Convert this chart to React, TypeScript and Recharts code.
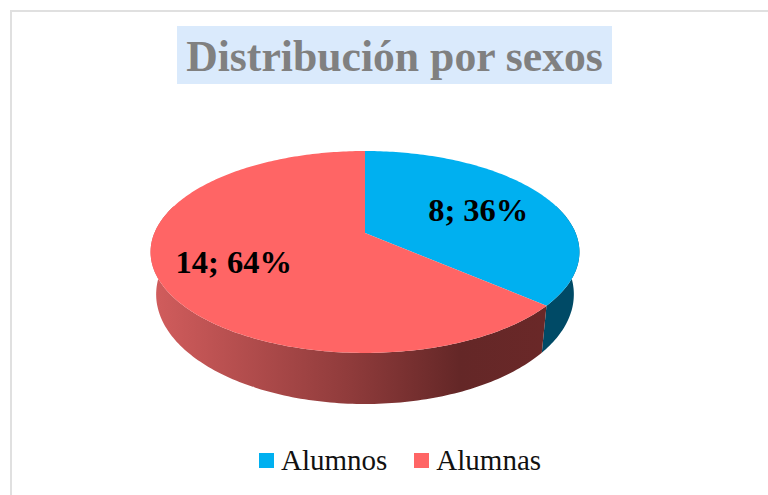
import { Legend, Pie, PieChart } from "recharts";

const categories = ["Alumnos", "Alumnas"];
const counts = [8, 14];
const sliceColors = ["#00b0f0", "#ff6565"];
const wallColors = ["#004a66", "url(#redWall)"];
const labelReach = [0.62, 0.65];

const data = categories.map((name, i) => ({ name, value: counts[i], fill: sliceColors[i] }));

// the pie is a tilted disc seen in perspective, so circle points go through a projection
const TILT = 0.188;
const TOP_SQUASH = 0.4625;
const RIM_DROP = 40.7;
const RIM_WIDTH = 0.974;
const RIM_SQUASH = 0.5024;

function topPoint(cx: number, cy: number, r: number, deg: number, reach = 1) {
  const a = (deg * Math.PI) / 180;
  const u = Math.sin(a) * reach;
  const v = -Math.cos(a) * reach;
  const d = 1 - TILT * v;
  return [cx + (r * u) / d, cy + (r * TOP_SQUASH * v) / d];
}

function rimPoint(cx: number, cy: number, r: number, deg: number) {
  const a = (deg * Math.PI) / 180;
  const u = Math.sin(a);
  const v = -Math.cos(a);
  const d = 1 - TILT * v;
  return [cx + (r * RIM_WIDTH * u) / d, cy + RIM_DROP + (r * RIM_SQUASH * v) / d];
}

function toPath(points: number[][]) {
  return "M" + points.map((p) => p[0].toFixed(2) + " " + p[1].toFixed(2)).join("L") + "Z";
}

function DiscSlice(props: any) {
  const { cx, cy, outerRadius, startAngle, endAngle, fill, index } = props;
  const from = 90 - startAngle;
  const to = 90 - endAngle;

  const angles: number[] = [];
  for (let t = from; t < to; t += 1) angles.push(t);
  angles.push(to);

  // only the part of the side wall facing the viewer is drawn, one quad per step
  // so that the straight silhouette at the left and right edges gets filled too
  const front = angles.filter((t) => Math.cos((t * Math.PI) / 180) < 0.3);
  const wall = front
    .slice(1)
    .map((t, i) =>
      toPath([
        topPoint(cx, cy, outerRadius, front[i]),
        topPoint(cx, cy, outerRadius, t),
        rimPoint(cx, cy, outerRadius, t),
        rimPoint(cx, cy, outerRadius, front[i]),
      ]),
    )
    .join(" ");
  const face = [[cx, cy], ...angles.map((t) => topPoint(cx, cy, outerRadius, t))];

  return (
    <g>
      {front.length > 1 && <path d={wall} fill={wallColors[index]} stroke="none" />}
      <path d={toPath(face)} fill={fill} stroke="none" />
    </g>
  );
}

function sliceLabel(props: any) {
  const { cx, cy, outerRadius, midAngle, percent, value, index } = props;
  const [x, y] = topPoint(cx, cy, outerRadius, 90 - midAngle, labelReach[index]);
  return (
    <text
      x={x}
      y={y + 12}
      textAnchor="middle"
      fill="#000"
      fontFamily="Liberation Serif"
      fontWeight="bold"
      fontSize={32.5}
    >
      {`${value}; ${Math.round(percent * 100)}%`}
    </text>
  );
}

function LegendRow(props: any) {
  return (
    <div style={{ display: "flex", alignItems: "center", fontFamily: "Liberation Serif", fontSize: 29, color: "#111" }}>
      {props.payload.map((item: any) => (
        <div key={item.value} style={{ display: "flex", alignItems: "center", marginRight: 27 }}>
          <span style={{ width: 15, height: 15, marginRight: 7, background: item.color }} />
          <span>{item.value}</span>
        </div>
      ))}
    </div>
  );
}

export default function App() {
  return (
    <div style={{ position: "absolute", left: 0, top: 0, width: 768, height: 495, overflow: "hidden", background: "#fff" }}>
      <div style={{ position: "absolute", left: 10, top: 10, width: 800, height: 600, border: "2px solid #e0e0e0" }} />
      <div
        style={{
          position: "absolute",
          left: 177,
          top: 26,
          width: 435,
          height: 58,
          background: "#daeafc",
          color: "#808080",
          fontFamily: "Liberation Serif",
          fontWeight: "bold",
          fontSize: 43.7,
          lineHeight: "60px",
          textAlign: "center",
          whiteSpace: "nowrap",
        }}
      >
        Distribución por sexos
      </div>
      <div style={{ position: "absolute", left: 0, top: 0 }}>
        <PieChart width={768} height={495} margin={{ top: 0, right: 0, bottom: 0, left: 0 }}>
          <defs>
            <linearGradient id="redWall" gradientUnits="userSpaceOnUse" x1={157} y1={0} x2={545} y2={0}>
              <stop offset="0" stopColor="#d05c5c" />
              <stop offset="0.5" stopColor="#8f3b3b" />
              <stop offset="0.78" stopColor="#642727" />
              <stop offset="1" stopColor="#6a2828" />
            </linearGradient>
          </defs>
          <Pie
            data={data}
            dataKey="value"
            nameKey="name"
            cx={365}
            cy={233}
            outerRadius={210.6}
            startAngle={90}
            endAngle={-270}
            stroke="none"
            shape={DiscSlice}
            label={sliceLabel}
            labelLine={false}
            isAnimationActive={false}
          />
          <Legend
            content={LegendRow}
            itemSorter={null}
            wrapperStyle={{ left: 259, top: 444, width: 320, bottom: "auto" }}
          />
        </PieChart>
      </div>
    </div>
  );
}
